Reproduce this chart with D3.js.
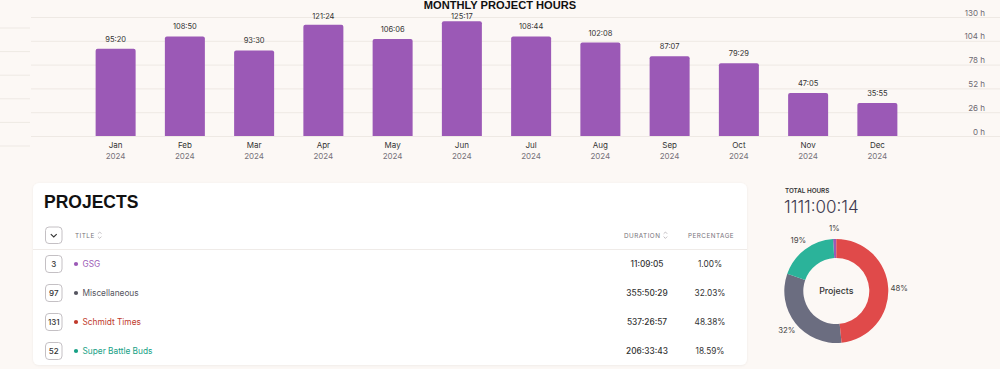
<!DOCTYPE html>
<html><head><meta charset="utf-8">
<script src="https://cdn.jsdelivr.net/npm/d3@7"></script>
<style>
html,body{margin:0;padding:0;background:#fcf8f5;}
svg{display:block;}
</style></head>
<body>
<svg id="chart" width="1000" height="369"></svg>
<script>
// ---- data ----
const months = ["Jan","Feb","Mar","Apr","May","Jun","Jul","Aug","Sep","Oct","Nov","Dec"];
const years = ["2024","2024","2024","2024","2024","2024","2024","2024","2024","2024","2024","2024"];
const durations = ["95:20","108:50","93:30","121:24","106:06","125:17","108:44","102:08","87:07","79:29","47:05","35:55"];
const yTicks = [0,26,52,78,104,130];

const projectNames = ["GSG","Miscellaneous","Schmidt Times","Super Battle Buds"];
const projectCounts = [3,97,131,52];
const projectDurations = ["11:09:05","355:50:29","537:26:57","206:33:43"];
const projectPercent = [1.00,32.03,48.38,18.59];
const projectColors = ["#9b59b6","#555560","#c0392b","#16a085"];
const donutColors = ["#9b59b6","#6b6d80","#e04a4a","#2bb39a"];
const totalHours = "1111:00:14";

const hours = durations.map(s => { const [h,m] = s.split(":").map(Number); return h + m/60; });

const svg = d3.select("#chart");
const sans = "Inter, 'Noto Sans', sans-serif";
const head = "'Liberation Sans', Arial, sans-serif";

// ---- bar chart ----
const x = d3.scaleBand().domain(months).range([81, 912]).paddingInner(0.4224).paddingOuter(0.2112);
const y = d3.scaleLinear().domain([0,130]).range([136, 17]);
const y2 = d3.scaleLinear().domain([0,130]).range([146, 28]);

// faint left segments
svg.append("g").selectAll("line").data(yTicks).join("line")
  .attr("x1",0).attr("x2",30).attr("y1",d=>y2(d)).attr("y2",d=>y2(d))
  .attr("stroke","#eee9e4").attr("stroke-width",1);

// right axis with grid
const yAxis = d3.axisRight(y).tickValues(yTicks).tickSize(0).tickFormat(d => d + " h");
const ga = svg.append("g").attr("transform","translate(985,0)").call(yAxis);
ga.select(".domain").remove();
ga.selectAll("text").attr("x",0).attr("dy","-0.25em").attr("text-anchor","end")
  .style("font-family",sans).style("font-size","8px").attr("fill","#6e6a72");
svg.append("g").selectAll("line").data(yTicks).join("line")
  .attr("x1",31).attr("x2",1000).attr("y1",d=>y(d)+0.5).attr("y2",d=>y(d)+0.5)
  .attr("stroke","#eee9e4").attr("stroke-width",1);

// bars
const r = 2;
svg.append("g").selectAll("path").data(months).join("path")
  .attr("fill","#9b59b6")
  .attr("d",(m,i)=>{
    const x0 = x(m), w = x.bandwidth(), t = y(hours[i]), b = y(0);
    return `M${x0},${b}V${t+r}Q${x0},${t} ${x0+r},${t}H${x0+w-r}Q${x0+w},${t} ${x0+w},${t+r}V${b}Z`;
  });

// value labels (clamped below the title)
svg.append("g").selectAll("text").data(months).join("text")
  .attr("x",m=>x(m)+x.bandwidth()/2).attr("y",(m,i)=>Math.max(y(hours[i])-7, 18.8))
  .attr("text-anchor","middle").style("font-family",sans).style("font-size","7.5px")
  .attr("fill","#333").text((m,i)=>durations[i]);

// x axis labels
const xAxis = d3.axisBottom(x).tickSize(0).tickFormat(d=>d);
const gx = svg.append("g").attr("transform","translate(0,136)").call(xAxis);
gx.select(".domain").remove();
gx.selectAll("text").attr("y",12).attr("dy",0).style("font-family",sans).style("font-size","8px").attr("fill","#333");
svg.append("g").selectAll("text").data(months).join("text")
  .attr("x",m=>x(m)+x.bandwidth()/2).attr("y",158.5)
  .attr("text-anchor","middle").style("font-family",sans).style("font-size","8px")
  .attr("fill","#77727a").text((m,i)=>years[i]);

// title
svg.append("text").attr("x",500).attr("y",9.3).attr("text-anchor","middle")
  .style("font-family",head).style("font-weight","bold").style("font-size","11.1px")
  .attr("fill","#111").text("MONTHLY PROJECT HOURS");

// ---- table card ----
const defs = svg.append("defs");
const f = defs.append("filter").attr("id","sh").attr("x","-5%").attr("y","-5%").attr("width","110%").attr("height","110%");
f.append("feDropShadow").attr("dx",0).attr("dy",0.5).attr("stdDeviation",1).attr("flood-color","#000").attr("flood-opacity",0.06);
svg.append("rect").attr("x",33).attr("y",183).attr("width",714).attr("height",182).attr("rx",6)
  .attr("fill","#fff").attr("filter","url(#sh)");

svg.append("text").attr("x",44).attr("y",207.7).style("font-family",head)
  .style("font-weight","bold").style("font-size","17.5px").attr("fill","#111").text("PROJECTS");

// header
svg.append("rect").attr("x",45.5).attr("y",227).attr("width",16.5).attr("height",16.5).attr("rx",3.5)
  .attr("fill","#fff").attr("stroke","#bdb9bd").attr("stroke-width",0.9);
svg.append("path").attr("d","M50.8,234.2 L53.75,237 L56.7,234.2").attr("fill","none")
  .attr("stroke","#333").attr("stroke-width",1.1);
const hdr = [["TITLE",75,"start",true],["DURATION",624,"start",true],["PERCENTAGE",688,"start",false]];
hdr.forEach(([t,hx,anc,sort])=>{
  const tx = svg.append("text").attr("x",hx).attr("y",237.5).attr("text-anchor",anc)
    .style("font-family",sans).style("font-size","6.3px").style("letter-spacing","0.5px")
    .attr("fill","#77727a").text(t);
  if(sort){
    const w = tx.node().getComputedTextLength();
    const sx = hx + w + 5;
    svg.append("path").attr("d",`M${sx-1.8},${233.8} L${sx},${232} L${sx+1.8},${233.8} M${sx-1.8},${236.6} L${sx},${238.4} L${sx+1.8},${236.6}`)
      .attr("fill","none").attr("stroke","#aaa5aa").attr("stroke-width",0.7);
  }
});
svg.append("line").attr("x1",33).attr("x2",747).attr("y1",249.5).attr("y2",249.5)
  .attr("stroke","#efebe8").attr("stroke-width",1);

// rows
const rowY = d3.scalePoint().domain(projectNames).range([264, 351]);
const rows = svg.append("g").selectAll("g").data(projectNames).join("g")
  .attr("transform",d=>`translate(0,${rowY(d)})`);
rows.append("rect").attr("x",45.5).attr("y",-8.5).attr("width",16.5).attr("height",17).attr("rx",3.5)
  .attr("fill","#fff").attr("stroke","#bdb9bd").attr("stroke-width",0.9);
rows.append("text").attr("x",53.75).attr("y",3).attr("text-anchor","middle")
  .style("font-family",sans).style("font-weight","500").style("font-size","8px").attr("fill","#333")
  .text((d,i)=>projectCounts[i]);
rows.append("circle").attr("cx",76).attr("cy",0).attr("r",2.1).attr("fill",(d,i)=>projectColors[i]);
rows.append("text").attr("x",82.5).attr("y",3).style("font-family",sans).style("font-size","8.3px")
  .attr("fill",(d,i)=>projectColors[i]).text(d=>d);
rows.append("text").attr("x",647).attr("y",3).attr("text-anchor","middle")
  .style("font-family",sans).style("font-weight","500").style("font-size","8.3px").attr("fill","#333")
  .text((d,i)=>projectDurations[i]);
rows.append("text").attr("x",710).attr("y",3).attr("text-anchor","middle")
  .style("font-family",sans).style("font-size","8.3px").attr("fill","#333")
  .text((d,i)=>projectPercent[i].toFixed(2)+"%");

// ---- total + donut ----
svg.append("text").attr("x",785).attr("y",193).style("font-family",sans).style("font-weight","600")
  .style("font-size","6.3px").attr("fill","#333").text("TOTAL HOURS");
svg.append("text").attr("x",784).attr("y",213).style("font-family",sans).style("font-weight","300")
  .style("font-size","17px").attr("fill","#3d3a4f").text(totalHours);

const pieData = projectNames.map((n,i)=>({name:n, value:projectPercent[i], color:donutColors[i]}));
const pie = d3.pie().value(d=>d.value);
const arcs = pie(pieData);
const arc = d3.arc().innerRadius(33).outerRadius(52);
const labelArc = d3.arc().innerRadius(63).outerRadius(63);
const dg = svg.append("g").attr("transform","translate(836.3,291)");
dg.selectAll("path").data(arcs).join("path").attr("d",arc).attr("fill",d=>d.data.color);
dg.selectAll("text.l").data(arcs).join("text").attr("class","l")
  .attr("transform",d=>`translate(${labelArc.centroid(d)})`).attr("dy","0.35em")
  .attr("text-anchor","middle").style("font-family",sans).style("font-size","7.8px")
  .attr("fill","#444").text(d=>Math.round(d.data.value)+"%");
dg.append("text").attr("y",3).attr("text-anchor","middle").style("font-family",sans)
  .style("font-size","8.8px").style("font-weight","500").attr("fill","#333").text("Projects");
</script>
</body></html>
